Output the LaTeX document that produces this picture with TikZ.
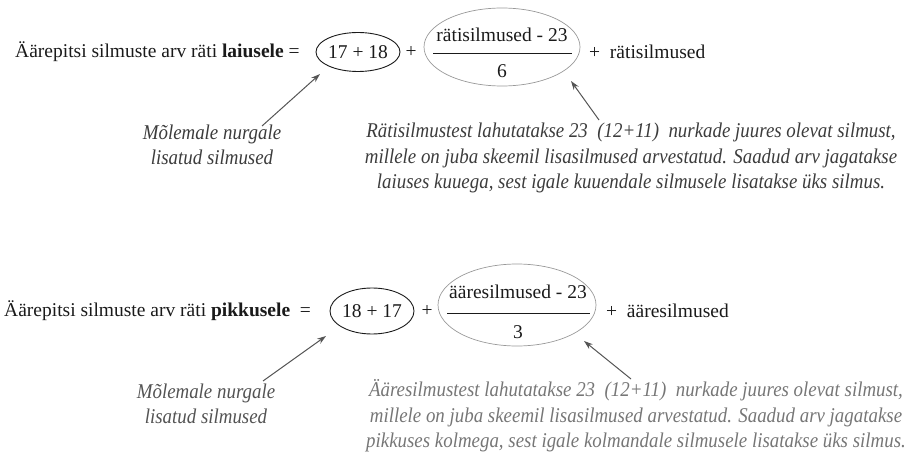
\documentclass[tikz,border=0pt]{standalone}
\usepackage{fontspec}
\setmainfont{Liberation Serif}
\newfontfamily\condit[FakeStretch=0.9]{Liberation Serif}
\usetikzlibrary{arrows.meta}
\definecolor{ink}{HTML}{1A1A1A}
\definecolor{arrowgray}{HTML}{555555}
\tikzset{
  eq/.style={font=\fontsize{19.5}{22}\selectfont, text=ink, inner sep=0pt},
  note/.style={font=\condit\itshape\fontsize{21}{25.5}\selectfont, align=center, inner sep=0pt},
  ovalA/.style={draw=ink, line width=0.9pt},
  ovalB/.style={draw=gray!80, line width=0.7pt},
  pointer/.style={draw=arrowgray, line width=1pt, -{Stealth[length=9pt,width=6pt]}},
}
\begin{document}
\begin{tikzpicture}[x=1pt,y=-1pt]
\useasboundingbox (0,0) rectangle (909,454);
% row 1
\node[eq, anchor=west] (t1) at (15,52) {Äärepitsi silmuste arv räti \textbf{laiusele} =};
\draw[ovalA] (358,52) ellipse [x radius=42, y radius=19.5];
\node[eq] (n1) at (358,52) {17 + 18};
\node[eq] (p1) at (411,52) {+};
\draw[ovalB] (502,47) ellipse [x radius=78, y radius=39];
\node[eq] (f1a) at (502,35) {rätisilmused - 23};
\draw[ink, line width=0.8pt] (433,53) -- (572,53);
\node[eq] (f1b) at (502,71) {6};
\node[eq, anchor=west] (r1) at (589,52) {+\ \ rätisilmused};
\coordinate (e1) at (320,74);
\coordinate (e2) at (571,81);
\node[note, text=ink!85] (m1) at (212,145) {Mõlemale nurgale\\lisatud silmused};
\node[note, text=ink!85] (d1) at (631,158) {Rätisilmustest lahutatakse 23\ \ (12+11)\ \ nurkade juures olevat silmust,\\millele on juba skeemil lisasilmused arvestatud. Saadud arv jagatakse\\laiuses kuuega, sest igale kuuendale silmusele lisatakse üks silmus.};
\coordinate (s1) at (262,126);
\coordinate (s2) at (599,120);
\draw[pointer] (s1) -- (e1);
\draw[pointer] (s2) -- (e2);
% row 2
\node[eq, anchor=west] (t2) at (4,311) {Äärepitsi silmuste arv räti \textbf{pikkusele}\ \ =};
\draw[ovalA] (372,311) ellipse [x radius=42, y radius=23];
\node[eq] (n2) at (372,311) {18 + 17};
\node[eq] (p2) at (427,311) {+};
\draw[ovalB] (517,305) ellipse [x radius=79, y radius=41];
\node[eq] (f2a) at (518,292) {ääresilmused - 23};
\draw[ink, line width=0.8pt] (447,313) -- (590,313);
\node[eq] (f2b) at (518,332) {3};
\node[eq, anchor=west] (r2) at (606,311) {+\ \ ääresilmused};
\coordinate (e3) at (326,336);
\coordinate (e4) at (584,341);
\node[note, text=ink!75] (m2) at (206,404) {Mõlemale nurgale\\lisatud silmused};
\node[note, text=ink!60] (d2) at (636,416) {Ääresilmustest lahutatakse 23\ \ (12+11)\ \ nurkade juures olevat silmust,\\millele on juba skeemil lisasilmused arvestatud. Saadud arv jagatakse\\pikkuses kolmega, sest igale kolmandale silmusele lisatakse üks silmus.};
\coordinate (s3) at (263,381);
\coordinate (s4) at (631,379);
\draw[pointer] (s3) -- (e3);
\draw[pointer] (s4) -- (e4);
\end{tikzpicture}
\end{document}
